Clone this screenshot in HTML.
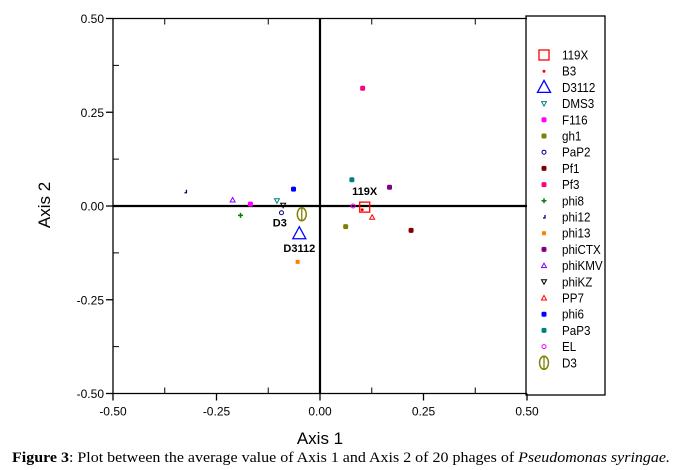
<!DOCTYPE html>
<html><head><meta charset="utf-8"><style>
html,body{margin:0;padding:0;background:#fff;}
svg{display:block;font-family:"Liberation Sans",sans-serif;}
</style></head><body>
<svg id="chart" width="681" height="470" viewBox="0 0 681 470" xmlns="http://www.w3.org/2000/svg">
<g id="axes"></g>
<g id="marks"></g>
<g id="legend"></g>
<text x="320" y="444" font-size="17" text-anchor="middle">Axis 1</text>
<text transform="translate(50,205) rotate(-90)" font-size="17" text-anchor="middle">Axis 2</text>
<text x="12" y="462" font-size="15" textLength="658" lengthAdjust="spacingAndGlyphs" font-family="'Liberation Serif',serif"><tspan font-weight="bold">Figure 3</tspan>: Plot between the average value of Axis 1 and Axis 2 of 20 phages of <tspan font-style="italic">Pseudomonas syringae.</tspan></text>
</svg>
<script>
const names = ["119X","B3","D3112","DMS3","F116","gh1","PaP2","Pf1","Pf3","phi8","phi12","phi13","phiCTX","phiKMV","phiKZ","PP7","phi6","PaP3","EL","D3"];
const xVals = [0.108,0.102,-0.05,-0.104,-0.168,0.062,-0.093,0.22,0.103,-0.192,-0.325,-0.054,0.168,-0.211,-0.089,0.126,-0.064,0.077,0.08,-0.044];
const yVals = [-0.003,-0.01,-0.074,0.014,0.005,-0.055,-0.018,-0.065,0.314,-0.025,0.038,-0.149,0.05,0.016,0.002,-0.03,0.045,0.07,0.0,-0.022];
const colors = ["#ff0000","#ff0000","#0000ff","#008080","#ff00ff","#808000","#000080","#800000","#ff0080","#008000","#000080","#ff8000","#800080","#8000ff","#000000","#ff0000","#0000ff","#008080","#ff00ff","#808000"];
const shapes = ["bigsquare","dot","bigtri","tridown","blob","blob","circ","blob","blob","plus","hook","sq","blob","tri","tridown","tri","blob","blob","circ","hex"];
const xTicks = [-0.5,-0.25,0,0.25,0.5];
const yTicks = [0.5,0.25,0,-0.25,-0.5];
const tickLabels = ["-0.50","-0.25","0.00","0.25","0.50"];
const yTickLabels = ["0.50","0.25","0.00","-0.25","-0.50"];
const pointLabels = {"119X":[0,-12],"D3":[-22,12],"D3112":[0,18]};

const X = v => 320 + v*414;
const Y = v => 206 - v*375;
const NS="http://www.w3.org/2000/svg";
function mk(tag, attrs, parent){const e=document.createElementNS(NS,tag);for(const k in attrs)e.setAttribute(k,attrs[k]);parent.appendChild(e);return e;}
const axes=document.getElementById('axes'), marks=document.getElementById('marks'), legend=document.getElementById('legend');

let f=mk('path',{d:`M${X(-0.5)},${Y(0.5)} L${X(0.5)},${Y(0.5)} M${X(-0.5)},${Y(0.5)} L${X(-0.5)},${Y(-0.5)} L${X(0.5)},${Y(-0.5)}`,stroke:'#000','stroke-width':1.3,fill:'none'},axes);


let z=mk('path',{d:`M${X(0)},${Y(0.5)} L${X(0)},${Y(-0.5)} M${X(-0.5)},${Y(0)} L${X(0.5)},${Y(0)}`,stroke:'#000','stroke-width':2.2},axes);


xTicks.forEach((v,i)=>{
  let t=mk('line',{x1:X(v),x2:X(v),y1:Y(-0.5),y2:Y(-0.5)+7,stroke:'#000','stroke-width':1.3},axes);
  
  
  let l=mk('text',{x:X(v),y:Y(-0.5)+22,'font-size':12,'text-anchor':'middle'},axes);l.textContent=tickLabels[i];
  
  
  if(i<4){let m=mk('line',{x1:X(v+0.125),x2:X(v+0.125),y1:Y(-0.5),y2:Y(-0.5)-6,stroke:'#000','stroke-width':1},axes);
  
  
  let m2=mk('line',{x1:X(v+0.125),x2:X(v+0.125),y1:Y(0.5),y2:Y(0.5)+6,stroke:'#000','stroke-width':1},axes);
  
  }
});
yTicks.forEach((v,i)=>{
  let t=mk('line',{x1:X(-0.5)-7,x2:X(-0.5),y1:Y(v),y2:Y(v),stroke:'#000','stroke-width':1.3},axes);
  
  
  let l=mk('text',{x:X(-0.5)-9,y:Y(v)+4.5,'font-size':12,'text-anchor':'end'},axes);l.textContent=yTickLabels[i];
  
  
  if(i<4){let m=mk('line',{x1:X(-0.5),x2:X(-0.5)+6,y1:Y(v-0.125),y2:Y(v-0.125),stroke:'#000','stroke-width':1},axes);
  
  }
});

function drawMarker(shape,cx,cy,c,parent){
  let e;
  switch(shape){
    case 'bigsquare': e=mk('rect',{x:cx-5,y:cy-5,width:10,height:10,fill:'none',stroke:c,'stroke-width':1.3},parent);break;
    case 'dot': e=mk('circle',{cx:cx,cy:cy,r:1.5,fill:c},parent);break;
    case 'bigtri': e=mk('polygon',{points:`${cx},${cy-7} ${cx-6.5},${cy+5} ${cx+6.5},${cy+5}`,fill:'none',stroke:c,'stroke-width':1.3},parent);break;
    case 'tri': e=mk('polygon',{points:`${cx},${cy-2.5} ${cx-2.5},${cy+2} ${cx+2.5},${cy+2}`,fill:'none',stroke:c,'stroke-width':1},parent);break;
    case 'tridown': e=mk('polygon',{points:`${cx-2.5},${cy-2} ${cx+2.5},${cy-2} ${cx},${cy+2.5}`,fill:'none',stroke:c,'stroke-width':1},parent);break;
    case 'circ': e=mk('circle',{cx:cx,cy:cy,r:2,fill:'none',stroke:c,'stroke-width':1},parent);break;
    case 'sq': e=mk('rect',{x:cx-2,y:cy-2,width:4,height:4,fill:c},parent);break;
    case 'plus': e=mk('path',{d:`M${cx-2.5},${cy} h5 M${cx},${cy-2.5} v5`,stroke:c,'stroke-width':1.5},parent);break;
    case 'hook': e=mk('path',{d:`M${cx+1},${cy-2} v3 h-2`,stroke:c,'stroke-width':1.3,fill:'none'},parent);break;
    case 'hex': e=mk('g',{},parent);
      mk('ellipse',{cx:cx,cy:cy,rx:4.5,ry:6.5,fill:'none',stroke:c,'stroke-width':1.5},e);
      mk('line',{x1:cx,x2:cx,y1:cy-6.5,y2:cy+6.5,stroke:c,'stroke-width':1.3},e);break;
    default: e=mk('rect',{x:cx-2.5,y:cy-2.5,width:5,height:5,rx:1.5,fill:c},parent);
  }
  return e;
}

names.forEach((n,i)=>{
  const cx=X(xVals[i]), cy=Y(yVals[i]);
  const e=drawMarker(shapes[i],cx,cy,colors[i],marks);
  
  
  if(pointLabels[n]){
    const t=mk('text',{x:cx+pointLabels[n][0],y:cy+pointLabels[n][1],'font-size':11,'font-weight':'bold','text-anchor':'middle'},marks);
    t.textContent=n;
    
    
  }
  const ly=55+i*16.2;
  const lm=drawMarker(shapes[i],544,ly,colors[i],legend);
  
  
  const lt=mk('text',{x:562,y:ly+4.5,'font-size':12.5,transform:`translate(562,0) scale(0.93,1) translate(-562,0)`},legend);
  lt.textContent=n;
  
  
});
let lb=mk('rect',{x:526,y:16,width:79,height:379,fill:'none',stroke:'#000','stroke-width':1.3},legend);


</script>
</body></html>
